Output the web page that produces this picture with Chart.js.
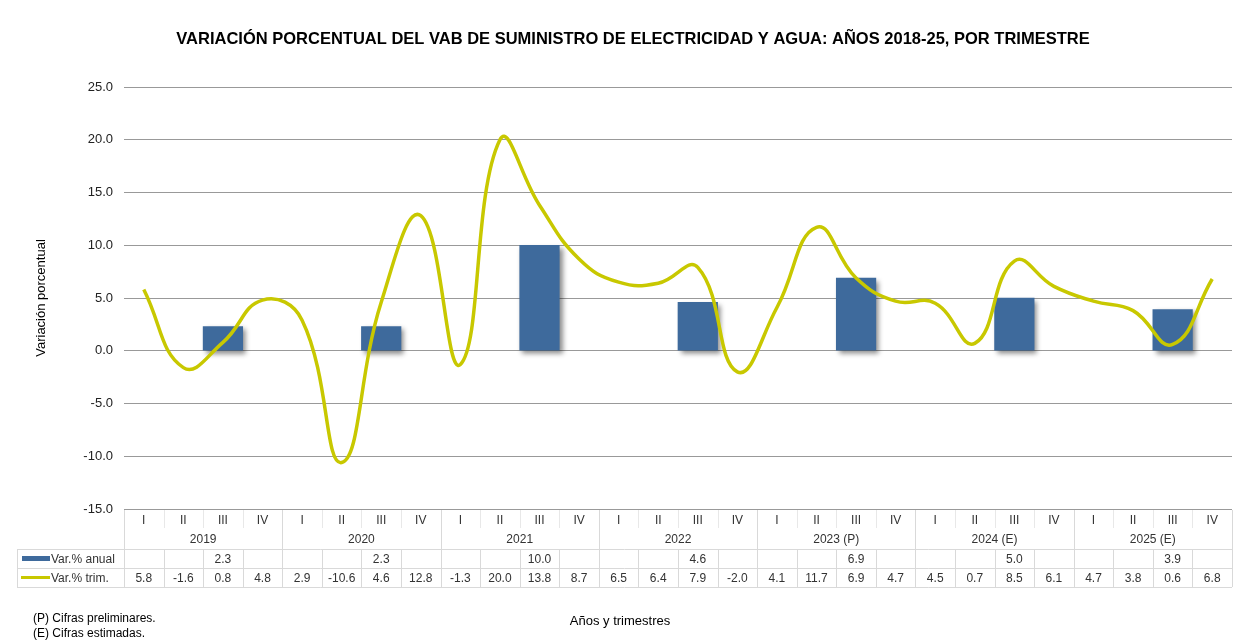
<!DOCTYPE html>
<html>
<head>
<meta charset="utf-8">
<script src="https://cdn.jsdelivr.net/npm/chart.js@4/dist/chart.umd.min.js"></script>
<style>
  html, body { margin: 0; padding: 0; background: #fff; }
  #wrap { width: 1238px; height: 641px; position: relative; }
</style>
</head>
<body>
<div id="wrap"><canvas id="vabChart" width="1238" height="641"></canvas></div>
<script>
// datos
const quarters = ['I','II','III','IV','I','II','III','IV','I','II','III','IV','I','II','III','IV',
                  'I','II','III','IV','I','II','III','IV','I','II','III','IV'];
const years = ['2019','2020','2021','2022','2023 (P)','2024 (E)','2025 (E)'];
const varAnual = [null,null,2.3,null, null,null,2.3,null, null,null,10.0,null, null,null,4.6,null,
                  null,null,6.9,null, null,null,5.0,null, null,null,3.9,null];
const varTrim = [5.8,-1.6,0.8,4.8, 2.9,-10.6,4.6,12.8, -1.3,20.0,13.8,8.7, 6.5,6.4,7.9,-2.0,
                 4.1,11.7,6.9,4.7, 4.5,0.7,8.5,6.1, 4.7,3.8,0.6,6.8];
const yTicks = [25, 20, 15, 10, 5, 0, -5, -10, -15];

const titleText = 'VARIACIÓN PORCENTUAL DEL VAB DE SUMINISTRO DE ELECTRICIDAD Y AGUA: AÑOS 2018-25, POR TRIMESTRE';
const barColor = '#3E6A9C';
const lineColor = '#C8C800';
const FONT = 'Arial, "Liberation Sans", sans-serif';

// sombra de las barras
const barShadow = {
    id: 'barShadow',
    beforeDatasetDraw(chart, args) {
        if (args.index !== 0) return;
        const ctx = chart.ctx;
        ctx.save();
        ctx.shadowColor = 'rgba(0,0,0,0.45)';
        ctx.shadowBlur = 5;
        ctx.shadowOffsetX = 3;
        ctx.shadowOffsetY = 3;
    },
    afterDatasetDraw(chart, args) {
        if (args.index !== 0) return;
        chart.ctx.restore();
    }
};

// titulo, tabla de datos y notas
const dataTable = {
    id: 'dataTable',
    afterDraw(chart) {
        const ctx = chart.ctx;
        const x = chart.scales.x;
        const area = chart.chartArea;
        const w = x.getPixelForValue(1) - x.getPixelForValue(0);
        const r1 = 510, r2 = 529, r3 = 549, r4 = 568, r5 = 587;
        const legLeft = 17;

        ctx.save();
        // titulo
        ctx.fillStyle = '#000';
        ctx.font = 'bold 16.5px ' + FONT;
        ctx.textAlign = 'center';
        ctx.textBaseline = 'middle';
        ctx.fillText(titleText, 633, 39);

        // lineas de la tabla
        ctx.strokeStyle = '#d9d9d9';
        ctx.lineWidth = 1;
        const hline = (y, x0, x1) => { ctx.beginPath(); ctx.moveTo(x0, y + 0.5); ctx.lineTo(x1, y + 0.5); ctx.stroke(); };
        const vline = (xx, y0, y1) => { ctx.beginPath(); ctx.moveTo(Math.round(xx) + 0.5, y0); ctx.lineTo(Math.round(xx) + 0.5, y1); ctx.stroke(); };
        hline(r3, legLeft, area.right);
        hline(r4, legLeft, area.right);
        hline(r5, legLeft, area.right);
        vline(legLeft, r3, r5);
        for (let i = 0; i <= quarters.length; i++) {
            const xx = area.left + i * w;
            if (i % 4 === 0) {
                vline(xx, r1, r5);
            } else {
                ctx.strokeStyle = '#e8e8e8';
                vline(xx, r1, r2 - 1);
                ctx.strokeStyle = '#d9d9d9';
                vline(xx, r3, r5);
            }
        }

        // textos de la tabla
        ctx.fillStyle = '#333';
        ctx.font = '12px ' + FONT;
        ctx.textAlign = 'center';
        quarters.forEach((q, i) => {
            const cx = x.getPixelForValue(i);
            ctx.fillText(q, cx, (r1 + r2) / 2 + 1);
            if (varAnual[i] !== null) ctx.fillText(varAnual[i].toFixed(1), cx, (r3 + r4) / 2 + 1);
            ctx.fillText(varTrim[i].toFixed(1), cx, (r4 + r5) / 2 + 1);
        });
        years.forEach((yr, j) => {
            const cx = area.left + (j * 4 + 2) * w;
            ctx.fillText(yr, cx, (r2 + r3) / 2 + 1);
        });

        // leyenda dentro de la tabla
        ctx.fillStyle = barColor;
        ctx.fillRect(22, 556, 28, 5);
        ctx.strokeStyle = lineColor;
        ctx.lineWidth = 3;
        ctx.beginPath();
        ctx.moveTo(21, 577.5);
        ctx.lineTo(50, 577.5);
        ctx.stroke();
        ctx.fillStyle = '#333';
        ctx.textAlign = 'left';
        ctx.fillText('Var.% anual', 51, (r3 + r4) / 2 + 1);
        ctx.fillText('Var.% trim.', 51, (r4 + r5) / 2 + 1);

        // notas y titulo del eje x
        ctx.fillStyle = '#000';
        ctx.fillText('(P) Cifras preliminares.', 33, 619);
        ctx.fillText('(E) Cifras estimadas.', 33, 634);
        ctx.font = '13px ' + FONT;
        ctx.textAlign = 'center';
        ctx.fillText('Años y trimestres', 620, 621);
        ctx.restore();
    }
};

const ctx = document.getElementById('vabChart').getContext('2d');
new Chart(ctx, {
    type: 'bar',
    data: {
        labels: quarters,
        datasets: [{
            type: 'bar',
            label: 'Var.% anual',
            data: varAnual,
            backgroundColor: barColor,
            barPercentage: 1.0,
            categoryPercentage: 1.0,
            order: 2
        }, {
            type: 'line',
            label: 'Var.% trim.',
            data: varTrim,
            borderColor: lineColor,
            borderWidth: 3.5,
            pointRadius: 0,
            tension: 0.45,
            fill: false,
            order: 1
        }]
    },
    options: {
        responsive: false,
        animation: false,
        devicePixelRatio: 1,
        layout: { padding: { top: 87, bottom: 132, right: 6, left: 0 } },
        plugins: {
            legend: { display: false },
            tooltip: { enabled: false },
            title: { display: false }
        },
        scales: {
            x: { display: false, offset: true },
            y: {
                min: -15,
                max: 25,
                afterFit(scale) { scale.width = 124; },
                afterBuildTicks(scale) { scale.ticks = yTicks.map(v => ({ value: v })); },
                border: { display: false },
                grid: { color: '#999', lineWidth: 1, drawTicks: false },
                ticks: {
                    padding: 11,
                    color: '#222',
                    font: { family: FONT, size: 13 },
                    callback: v => Number(v).toFixed(1)
                },
                title: {
                    display: true,
                    text: 'Variación porcentual',
                    color: '#000',
                    font: { family: FONT, size: 13 },
                    padding: { top: 34, bottom: 0 }
                }
            }
        }
    },
    plugins: [barShadow, dataTable]
});
</script>
</body>
</html>
